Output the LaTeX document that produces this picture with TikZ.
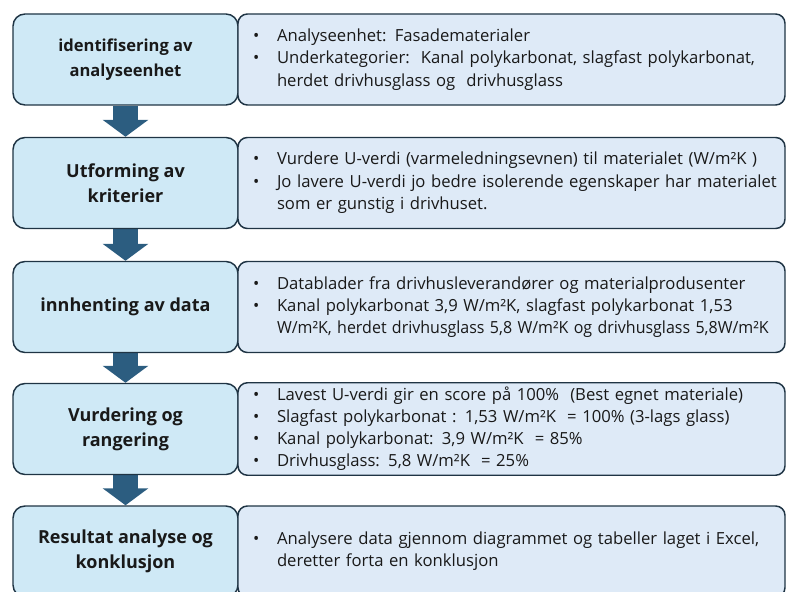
\documentclass[tikz,border=0pt]{standalone}
\usepackage{graphicx}
\usepackage{fontspec}
\setmainfont{Open Sans}
\usetikzlibrary{positioning,arrows.meta,backgrounds}
\definecolor{stepfill}{RGB}{207,233,246}
\definecolor{notefill}{RGB}{222,234,247}
\definecolor{edge}{RGB}{31,52,68}
\definecolor{flow}{RGB}{44,93,128}
\definecolor{ink}{RGB}{25,25,25}
% one bullet line / one continuation line, never broken
\newcommand{\bul}[1]{\mbox{\makebox[18pt][l]{\textbullet}#1}}
\newcommand{\cont}[1]{\mbox{\hspace*{18pt}#1}}

\begin{document}
\begin{tikzpicture}[x=0.75pt, y=-0.75pt,
  stepbox/.style={draw=edge, line width=1.1pt, fill=stepfill, rounded corners=9pt, text=ink,
    minimum width=168.75pt, minimum height=68.25pt, align=center, font=\fontsize{13.5}{18.75}\selectfont\bfseries},
  notebox/.style={draw=edge, line width=1.1pt, fill=notefill, rounded corners=7pt, text=ink,
    minimum height=68.25pt, text width=387.75pt, inner xsep=11.25pt, align=left, font=\fontsize{12.5}{16.75}\selectfont},
  flowarr/.style={flow, line width=18.75pt, -{Triangle[length=12.75pt, width=33.75pt]}}]
\clip (0,0) rectangle (786,592);
\useasboundingbox (0,0) rectangle (786,592);

% left column: the five steps
\node[stepbox, font=\fontsize{12.4}{18.75}\selectfont\bfseries] (s1) at (125.5,59.5) {identifisering av\\analyseenhet};
\node[stepbox] (s2) at (125.5,183) {Utforming av\\kriterier};
\node[stepbox] (s3) at (125.5,307) {innhenting av data};
\node[stepbox] (s4) at (125.5,429) {Vurdering og\\rangering};
\node[stepbox] (s5) at (125.5,551.5) {Resultat analyse og\\konklusjon};

% right column: notes per step
\node[notebox] (n1) at (511.5,59.5) {\bul{Analyseenhet: Fasadematerialer}\\
  \bul{Underkategorier:\ \ Kanal polykarbonat, slagfast polykarbonat,}\\
  \cont{herdet drivhusglass og\ \ drivhusglass}};
\node[notebox] (n2) at (511.5,183) {\bul{Vurdere U-verdi (varmeledningsevnen) til materialet (W/m²K )}\\
  \bul{Jo lavere U-verdi jo bedre isolerende egenskaper har materialet}\\
  \cont{som er gunstig i drivhuset.}};
\node[notebox] (n3) at (511.5,307) {\bul{Datablader fra drivhusleverandører og materialprodusenter}\\
  \bul{Kanal polykarbonat 3,9 W/m²K, slagfast polykarbonat 1,53}\\
  \cont{\scalebox{0.96}[1]{W/m²K, herdet drivhusglass 5,8 W/m²K og drivhusglass 5,8W/m²K}}};
\node[notebox, font=\fontsize{12.5}{16.5}\selectfont] (n4) at (511.5,429) {\bul{Lavest U-verdi gir en score på 100\%\ \ (Best egnet materiale)}\\
  \bul{Slagfast polykarbonat : 1,53 W/m²K\ \ = 100\% (3-lags glass)}\\
  \bul{Kanal polykarbonat: 3,9 W/m²K\ \ = 85\%}\\
  \bul{Drivhusglass: 5,8 W/m²K\ \ = 25\%}};
\node[notebox] (n5) at (511.5,551.5) {\bul{Analysere data gjennom diagrammet og tabeller laget i Excel,}\\
  \cont{deretter forta en konklusjon}};

\begin{scope}[on background layer]
\draw[flowarr] (s1.south) -- (s2.north);
\draw[flowarr] (s2.south) -- (s3.north);
\draw[flowarr] (s3.south) -- (s4.north);
\draw[flowarr] (s4.south) -- (s5.north);
\end{scope}
\end{tikzpicture}
\end{document}
